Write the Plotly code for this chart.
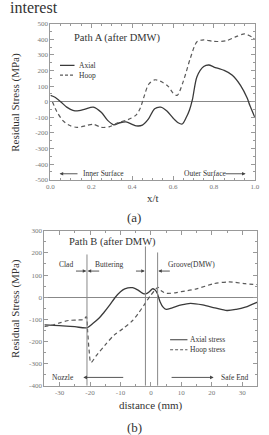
import plotly.graph_objects as go

# ---------------- Data: Path A ----------------
xt_axial = [0, 0.02, 0.05, 0.08, 0.11, 0.14, 0.17, 0.21, 0.25, 0.28, 0.31, 0.34, 0.37, 0.40, 0.42,
            0.45, 0.48, 0.51, 0.54, 0.57, 0.60, 0.625, 0.645, 0.665, 0.68, 0.695, 0.717, 0.75,
            0.775, 0.80, 0.85, 0.89, 0.93, 0.962, 0.976, 1.0]
axial_a = [40, 30, 0, -35, -55, -58, -48, -35, -70, -120, -148, -135, -130, -145, -155,
           -150, -110, -45, -35, -60, -105, -135, -143, -100, -55, 15, 160, 225,
           235, 222, 200, 170, 105, 25, -25, -100]

xt_hoop = [0.01, 0.03, 0.06, 0.09, 0.13, 0.17, 0.21, 0.25, 0.29, 0.33, 0.38, 0.42, 0.44, 0.46,
           0.48, 0.51, 0.54, 0.575, 0.60, 0.62, 0.65, 0.685, 0.717, 0.75, 0.80, 0.86, 0.905,
           0.95, 0.985, 1.0]
hoop_a = [0, -60, -120, -150, -165, -155, -145, -165, -160, -135, -115, -85, -40, 40,
          110, 140, 130, 100, 55, 40, 130, 280, 384, 396, 386, 390, 415,
          434, 415, 398]

# ---------------- Data: Path B ----------------
d_axial = [-35, -30, -25, -21, -19, -17, -15.5, -13.5, -11.7, -10, -8.6, -6, -4, -2.5, -1.5,
           -0.5, 0.5, 1.2, 2, 3, 4, 5, 7, 10, 13, 17, 21, 25, 28, 31, 35]
axial_b = [-125, -128, -133, -138, -118, -94, -70, -35, 0, 25, 38, 43, 30, 16, 16,
           25, 38, 35, 20, -20, -45, -55, -48, -35, -28, -35, -48, -60, -55, -45, -22]

d_hoop = [-35, -33, -30, -27, -24, -22, -21.2, -20.8, -20.3, -19.7, -18, -15, -12, -9, -6,
          -4, -2, 0, 1.5, 2.3, 3.5, 5, 8, 10, 15, 20.6, 25.7, 31, 35]
hoop_b = [-133, -128, -116, -105, -103, -100, -88, -150, -240, -295, -265, -215, -170, -140, -105,
          -70, -30, 10, 35, 45, 28, 18, 20, 25, 38, 61, 69, 61, 57]

ytick_a = [500, 400, 300, 200, 100, 0, -100, -200, -300, -400, -500]
xtick_a = [0.0, 0.2, 0.4, 0.6, 0.8, 1.0]
ytick_b = [300, 200, 100, 0, -100, -200, -300, -400]
xtick_b = [-30, -20, -10, 0, 10, 20, 30]
vlines_b = [-21, -1.8, 2.2]

W, H = 269, 435
SERIF = "Liberation Serif, Times New Roman, Times, serif"
LINE = "#3a3a3a"
DASH = "#5a5a5a"
FRAME = "#999"
TICKC = "#777"
TXT = "#333"

fig = go.Figure()
fig.add_trace(go.Scatter(x=xt_axial, y=axial_a, mode="lines", line=dict(color=LINE, width=1.3, shape="spline", smoothing=0.8),
                         xaxis="x", yaxis="y", showlegend=False))
fig.add_trace(go.Scatter(x=xt_hoop, y=hoop_a, mode="lines", line=dict(color=DASH, width=1.2, dash="4px,3px", shape="spline", smoothing=0.8),
                         xaxis="x", yaxis="y", showlegend=False))
fig.add_trace(go.Scatter(x=d_axial, y=axial_b, mode="lines", line=dict(color=LINE, width=1.3, shape="spline", smoothing=0.8),
                         xaxis="x2", yaxis="y2", showlegend=False))
fig.add_trace(go.Scatter(x=d_hoop, y=hoop_b, mode="lines", line=dict(color=DASH, width=1.2, dash="4px,3px", shape="spline", smoothing=0.8),
                         xaxis="x2", yaxis="y2", showlegend=False))

def ax(**kw):
    base = dict(showline=True, linecolor=FRAME, linewidth=1, mirror="ticks", ticks="inside",
                ticklen=4, tickcolor=FRAME, showgrid=False, zeroline=False,
                tickfont=dict(family=SERIF, size=7, color=TICKC))
    base.update(kw)
    return base

fig.update_layout(
    width=W, height=H, margin=dict(l=0, r=0, t=0, b=0),
    paper_bgcolor="white", plot_bgcolor="white",
    font=dict(family=SERIF, color=TXT),
    xaxis=ax(domain=[48 / W, 259.5 / W], range=[0, 1], anchor="y", tickvals=xtick_a,
             ticktext=[f"{v:.1f}" for v in xtick_a],
             minor=dict(ticks="inside", ticklen=2, dtick=0.05, tickcolor=FRAME)),
    yaxis=ax(domain=[1 - 179 / H, 1 - 20 / H], range=[-500, 500], anchor="x", tickvals=ytick_a,
             ticktext=[str(v) for v in ytick_a],
             zeroline=True, zerolinecolor="#888", zerolinewidth=1,
             minor=dict(ticks="inside", ticklen=2, dtick=50, tickcolor=FRAME)),
    xaxis2=ax(domain=[41.75 / W, 262.25 / W], range=[-35, 35], anchor="y2", tickvals=xtick_b,
              ticktext=[str(v) for v in xtick_b],
              minor=dict(ticks="inside", ticklen=2, dtick=5, tickcolor=FRAME)),
    yaxis2=ax(domain=[1 - 389 / H, 1 - 231 / H], range=[-400, 300], anchor="x2", tickvals=ytick_b,
              ticktext=[str(v) for v in ytick_b],
              zeroline=True, zerolinecolor="#888", zerolinewidth=1,
              minor=dict(ticks="inside", ticklen=2, dtick=50, tickcolor=FRAME)),
)

ann = []
def txt(text, x, y, xref, yref, size, xanchor="center", yanchor="middle", angle=0, color=TXT):
    ann.append(dict(text=text, x=x, y=y, xref=xref, yref=yref, showarrow=False,
                    font=dict(family=SERIF, size=size, color=color), xanchor=xanchor,
                    yanchor=yanchor, textangle=angle))

def arrow(x0, x1, y, xr, yr):
    ann.append(dict(text="", x=x1, y=y, ax=x0, ay=y, xref=xr, yref=yr, axref=xr, ayref=yr,
                    showarrow=True, arrowhead=2, arrowsize=0.8, arrowwidth=0.9, arrowcolor="#444"))

# top header (cut-off text from the page above)
txt("interest", 4 / W, 1 - 4 / H, "paper", "paper", 16, xanchor="left")

# Path A texts
txt("Path A (after DMW)", 0.33, 409, "x", "y", 10.5)
fig.add_shape(type="line", x0=0.047, x1=0.118, y0=233, y1=233, xref="x", yref="y", line=dict(color=LINE, width=1.2))
fig.add_shape(type="line", x0=0.047, x1=0.118, y0=170, y1=170, xref="x", yref="y", line=dict(color=DASH, width=1.1, dash="3px,2px"))
txt("Axial", 0.128, 233, "x", "y", 7.5, xanchor="left")
txt("Hoop", 0.128, 170, "x", "y", 7.5, xanchor="left")
arrow(0.14, 0.045, -462, "x", "y")
txt("Inner Surface", 0.15, -462, "x", "y", 7.5, xanchor="left")
txt("Outer Surface", 0.645, -462, "x", "y", 7.5, xanchor="left")
arrow(0.85, 0.955, -462, "x", "y")
txt("x/t", (48 + 259.5) / 2 / W, 1 - 198 / H, "paper", "paper", 11)
txt("(a)", 135 / W, 1 - 218 / H, "paper", "paper", 13)
txt("Residual Stress (MPa)", 12 / W, 1 - 100 / H, "paper", "paper", 11, angle=-90)

# Path B texts
txt("Path B (after DMW)", -12.7, 247, "x2", "y2", 10.5)
txt("Clad", -28, 149, "x2", "y2", 7.5)
txt("Buttering", -13.5, 149, "x2", "y2", 7.5)
txt("Groove(DMW)", 13.3, 149, "x2", "y2", 7.5)
arrow(-25.1, -21.2, 118, "x2", "y2")
arrow(-16.5, -20.8, 118, "x2", "y2")
arrow(-5.4, -2.0, 118, "x2", "y2")
arrow(6.7, 2.4, 118, "x2", "y2")
fig.add_shape(type="line", x0=6.3, x1=12, y0=-192, y1=-192, xref="x2", yref="y2", line=dict(color=LINE, width=1.2))
fig.add_shape(type="line", x0=6.3, x1=12, y0=-237, y1=-237, xref="x2", yref="y2", line=dict(color=DASH, width=1.1, dash="3px,2px"))
txt("Axial stress", 12.3, -192, "x2", "y2", 7.5, xanchor="left")
txt("Hoop stress", 12.3, -237, "x2", "y2", 7.5, xanchor="left")
txt("Nozzle", -24.5, -362, "x2", "y2", 7.5, xanchor="right")
arrow(-8.6, -22.2, -362, "x2", "y2")
arrow(6.3, 20.6, -362, "x2", "y2")
txt("Safe End", 22.2, -362, "x2", "y2", 7.5, xanchor="left")
txt("distance (mm)", (41.75 + 262.25) / 2 / W, 1 - 409 / H, "paper", "paper", 11)
txt("(b)", 135 / W, 1 - 431 / H, "paper", "paper", 13)
txt("Residual Stress (MPa)", 12 / W, 1 - 310 / H, "paper", "paper", 11, angle=-90)

for xv, ytop in zip(vlines_b, [193, 229, 202]):
    fig.add_shape(type="line", x0=xv, x1=xv, y0=-400, y1=ytop, xref="x2", yref="y2",
                  line=dict(color="#888", width=1))

fig.update_layout(annotations=ann)
fig.write_html("out.html")
